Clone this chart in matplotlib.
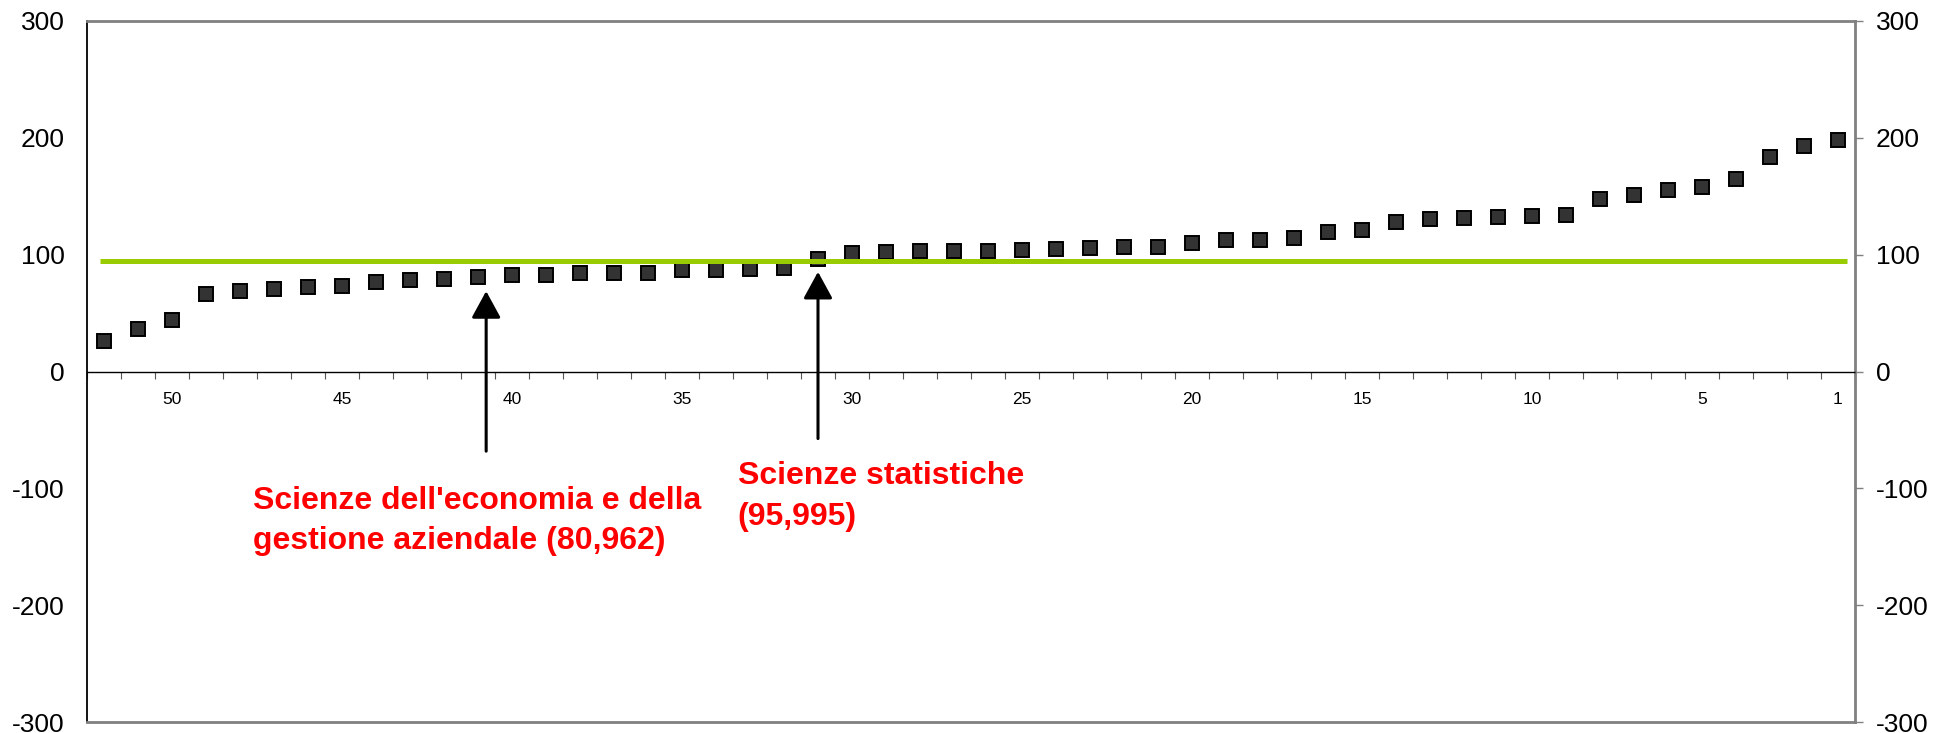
import matplotlib
matplotlib.use("Agg")
import matplotlib.pyplot as plt
from matplotlib.ticker import FixedLocator

plt.rcParams['font.family'] = ['Liberation Sans', 'DejaVu Sans']
plt.rcParams['axes.unicode_minus'] = False

# posizione in graduatoria (1 = migliore) e valore dell'indicatore
ranks = list(range(1, 53))
values = [198, 193, 184, 165, 158, 155, 151, 148, 134, 133,
          132.4, 131.5, 130.1, 127.8, 121.0, 119.5, 114.1, 112.4, 112.4, 109.6,
          106.7, 106.7, 105.3, 104.7, 103.6, 103.5, 103.3, 103.0, 102.4, 101.0,
          95.995, 89.0, 87.6, 87.3, 86.7, 84.4, 83.9, 83.9, 83.0, 82.2,
          80.962, 79.0, 78.2, 76.7, 73.0, 71.9, 70.2, 69.0, 66.2, 43.9,
          36.4, 25.8]
media = 95.0

xlabels_pos = [50, 45, 40, 35, 30, 25, 20, 15, 10, 5, 1]
yticks = [-300, -200, -100, 0, 100, 200, 300]

note1 = "Scienze dell'economia e della\ngestione aziendale (80,962)"
note2 = "Scienze statistiche\n(95,995)"

fig = plt.figure(figsize=(19.43, 7.33), dpi=100)
ax = fig.add_axes([87 / 1943, 1 - 722 / 733, 1768 / 1943, 701 / 733])

ax.plot(ranks, values, linestyle='none', marker='s', markersize=10,
        markerfacecolor='#333333', markeredgecolor='black', markeredgewidth=1.4,
        zorder=3)
ax.hlines(media, 52.12, 0.74, color='#99cc00', linewidth=3.6, zorder=4)

ax.set_xlim(52.5, 0.5)
ax.set_ylim(-300, 300)

# asse x posizionato sullo zero
ax.spines['bottom'].set_position(('data', 0))
ax.spines['bottom'].set_color('black')
ax.spines['bottom'].set_linewidth(1.0)
ax.axhline(-300, color='#808080', linewidth=2, clip_on=False, zorder=5)
for s in ['top', 'right']:
    ax.spines[s].set_color('#808080')
    ax.spines[s].set_linewidth(2)
ax.spines['left'].set_color('black')
ax.spines['left'].set_linewidth(1.3)

ax.xaxis.set_major_locator(FixedLocator(xlabels_pos))
ax.set_xticklabels([str(v) for v in xlabels_pos])
ax.xaxis.set_minor_locator(FixedLocator([r + 0.5 for r in range(0, 53)]))
ax.tick_params(axis='x', which='major', length=0, pad=15, labelsize=12.5)
ax.tick_params(axis='x', which='minor', length=5, width=0.8, direction='out',
               color='#555555')

ax.set_yticks(yticks)
ax.tick_params(axis='y', length=0, pad=16, labelsize=19)

ax2 = ax.twinx()
ax2.set_ylim(-300, 300)
ax2.set_yticks(yticks)
ax2.tick_params(axis='y', length=6, width=1, color='#808080', pad=9, labelsize=19)
for s in ax2.spines.values():
    s.set_visible(False)

arrow = dict(arrowstyle='-|>,head_length=1.65,head_width=0.9', lw=2.2,
             color='black', shrinkA=0, shrinkB=0)
ax.annotate('', xy=(40.76, 68.8), xytext=(40.76, -68.2), arrowprops=arrow, zorder=6)
ax.annotate('', xy=(31, 85.3), xytext=(31, -57.4), arrowprops=arrow, zorder=6)

ax.text(47.62, -98, note1, color='#ff0000', fontsize=23, fontweight='bold',
        ha='left', va='top', linespacing=1.44)
ax.text(33.36, -77, note2, color='#ff0000', fontsize=23, fontweight='bold',
        ha='left', va='top', linespacing=1.44)

fig.savefig('out.png', dpi=100)
